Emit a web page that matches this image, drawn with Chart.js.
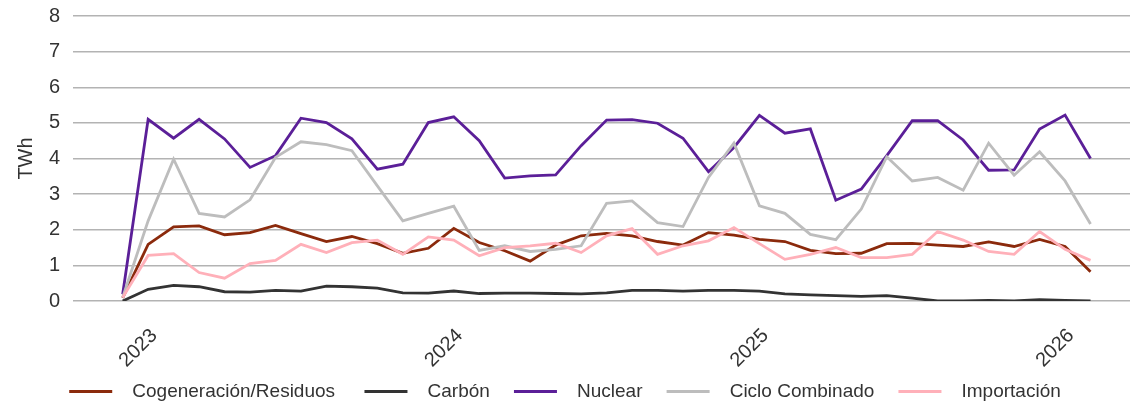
<!DOCTYPE html>
<html>
<head>
<meta charset="utf-8">
<script src="https://cdn.jsdelivr.net/npm/chart.js@4.4.1/dist/chart.umd.min.js"></script>
<style>
  html, body { margin: 0; padding: 0; background: #fff; }
  #wrap { width: 1130px; height: 406px; }
</style>
</head>
<body>
<div id="wrap"><canvas id="chart"></canvas></div>
<script>
// monthly generation, TWh
var months = ["2022-12",
  "2023-01","2023-02","2023-03","2023-04","2023-05","2023-06","2023-07","2023-08","2023-09","2023-10","2023-11","2023-12",
  "2024-01","2024-02","2024-03","2024-04","2024-05","2024-06","2024-07","2024-08","2024-09","2024-10","2024-11","2024-12",
  "2025-01","2025-02","2025-03","2025-04","2025-05","2025-06","2025-07","2025-08","2025-09","2025-10","2025-11","2025-12",
  "2026-01","2026-02"];

var cogeneracion = [0.09,1.59,2.08,2.11,1.86,1.92,2.12,1.89,1.67,1.81,1.61,1.34,1.48,
  2.04,1.64,1.41,1.12,1.57,1.83,1.90,1.83,1.67,1.57,1.92,1.85,
  1.73,1.67,1.42,1.33,1.34,1.61,1.62,1.57,1.53,1.66,1.53,1.73,
  1.53,0.82];
var carbon = [0.00,0.33,0.44,0.40,0.26,0.25,0.30,0.28,0.42,0.40,0.36,0.23,0.22,
  0.28,0.21,0.22,0.22,0.21,0.20,0.23,0.30,0.30,0.28,0.30,0.30,
  0.28,0.20,0.17,0.15,0.13,0.15,0.08,0.00,0.00,0.02,0.00,0.04,
  0.02,0.00];
var nuclear = [0.19,5.10,4.57,5.10,4.55,3.75,4.08,5.13,5.01,4.55,3.70,3.84,5.01,
  5.17,4.50,3.45,3.51,3.54,4.36,5.08,5.09,4.99,4.57,3.63,4.31,
  5.21,4.71,4.83,2.83,3.14,4.08,5.06,5.06,4.52,3.67,3.68,4.83,
  5.22,4.00];
var cicloCombinado = [0.10,2.25,3.98,2.46,2.36,2.84,4.03,4.47,4.39,4.22,3.23,2.25,2.46,
  2.66,1.42,1.55,1.39,1.45,1.55,2.74,2.81,2.20,2.09,3.47,4.43,
  2.67,2.46,1.87,1.72,2.58,4.05,3.37,3.47,3.11,4.43,3.53,4.19,
  3.37,2.16];
var importacion = [0.10,1.28,1.33,0.80,0.64,1.05,1.14,1.59,1.36,1.64,1.71,1.31,1.80,
  1.71,1.27,1.50,1.55,1.62,1.36,1.83,2.03,1.31,1.55,1.69,2.06,
  1.61,1.17,1.31,1.50,1.22,1.22,1.31,1.95,1.71,1.39,1.31,1.95,
  1.45,1.14];

var seriesNames = ["Cogeneración/Residuos", "Carbón", "Nuclear", "Ciclo Combinado", "Importación"];
var seriesColors = ["#8b2a0c", "#333333", "#5b1f98", "#bdbdbd", "#ffb0b9"];
var seriesValues = [cogeneracion, carbon, nuclear, cicloCombinado, importacion];

// x ticks: january of each year
var tickIdx = [1, 13, 25, 37];
var tickLabels = ["2023", "2024", "2025", "2026"];

var FONT = "'Liberation Sans', Arial, sans-serif";

function toPoints(values) {
    return values.map(function (v, i) { return { x: i, y: v }; });
}

var datasets = seriesNames.map(function (name, i) {
    return {
        label: name,
        data: toPoints(seriesValues[i]),
        borderColor: seriesColors[i],
        backgroundColor: seriesColors[i],
        borderWidth: 2.8,
        pointRadius: 0,
        tension: 0,
        order: seriesNames.length - i   // later series drawn on top
    };
});

var ctx = document.getElementById('chart').getContext('2d');
var chart = new Chart(ctx, {
    type: 'line',
    data: { datasets: datasets },
    options: {
        responsive: true,
        maintainAspectRatio: false,
        animation: false,
        layout: { padding: { top: 16, right: 0, left: 0, bottom: -5 } },
        plugins: {
            tooltip: { enabled: false },
            legend: {
                position: 'bottom',
                labels: {
                    font: { family: FONT, size: 19 },
                    color: '#333333',
                    boxWidth: 43,
                    boxHeight: 3,
                    padding: 3,
                    sort: function (a, b) { return a.datasetIndex - b.datasetIndex; },
                    generateLabels: function (chart) {
                        var items = Chart.defaults.plugins.legend.labels.generateLabels(chart);
                        items.forEach(function (it) {
                            // spacing box-text and between items as in the original
                            var gap = it.datasetIndex === 0 ? '     ' : '    ';
                            it.text = '  ' + it.text + (it.datasetIndex < seriesNames.length - 1 ? gap : '');
                            it.lineWidth = 0;
                            it.fillStyle = seriesColors[it.datasetIndex];
                        });
                        return items;
                    }
                }
            }
        },
        scales: {
            x: {
                type: 'linear',
                min: -1.95,
                max: 39.55,
                grid: { display: false, drawTicks: false },
                border: { display: false },
                afterBuildTicks: function (scale) {
                    scale.ticks = tickIdx.map(function (v) { return { value: v }; });
                },
                afterFit: function (scale) { scale.height = 78; },
                ticks: {
                    autoSkip: false,
                    minRotation: 45,
                    maxRotation: 45,
                    padding: 23,
                    labelOffset: 6,
                    color: '#333333',
                    font: { family: FONT, size: 20 },
                    callback: function (value) {
                        var k = tickIdx.indexOf(value);
                        return k >= 0 ? tickLabels[k] : '';
                    }
                }
            },
            y: {
                min: 0,
                max: 8,
                afterFit: function (scale) {
                    scale.width = 73;
                    scale.paddingTop = 0;
                    scale.paddingBottom = 0;
                },
                grid: { color: '#b3b3b3', lineWidth: 1.5, drawTicks: false },
                border: { display: false },
                ticks: {
                    stepSize: 1,
                    padding: 13,
                    color: '#333333',
                    font: { family: FONT, size: 20 }
                },
                title: {
                    display: true,
                    text: 'TWh',
                    color: '#333333',
                    font: { family: FONT, size: 20 },
                    padding: { top: 14, bottom: 0 }
                }
            }
        }
    }
});
</script>
</body>
</html>
